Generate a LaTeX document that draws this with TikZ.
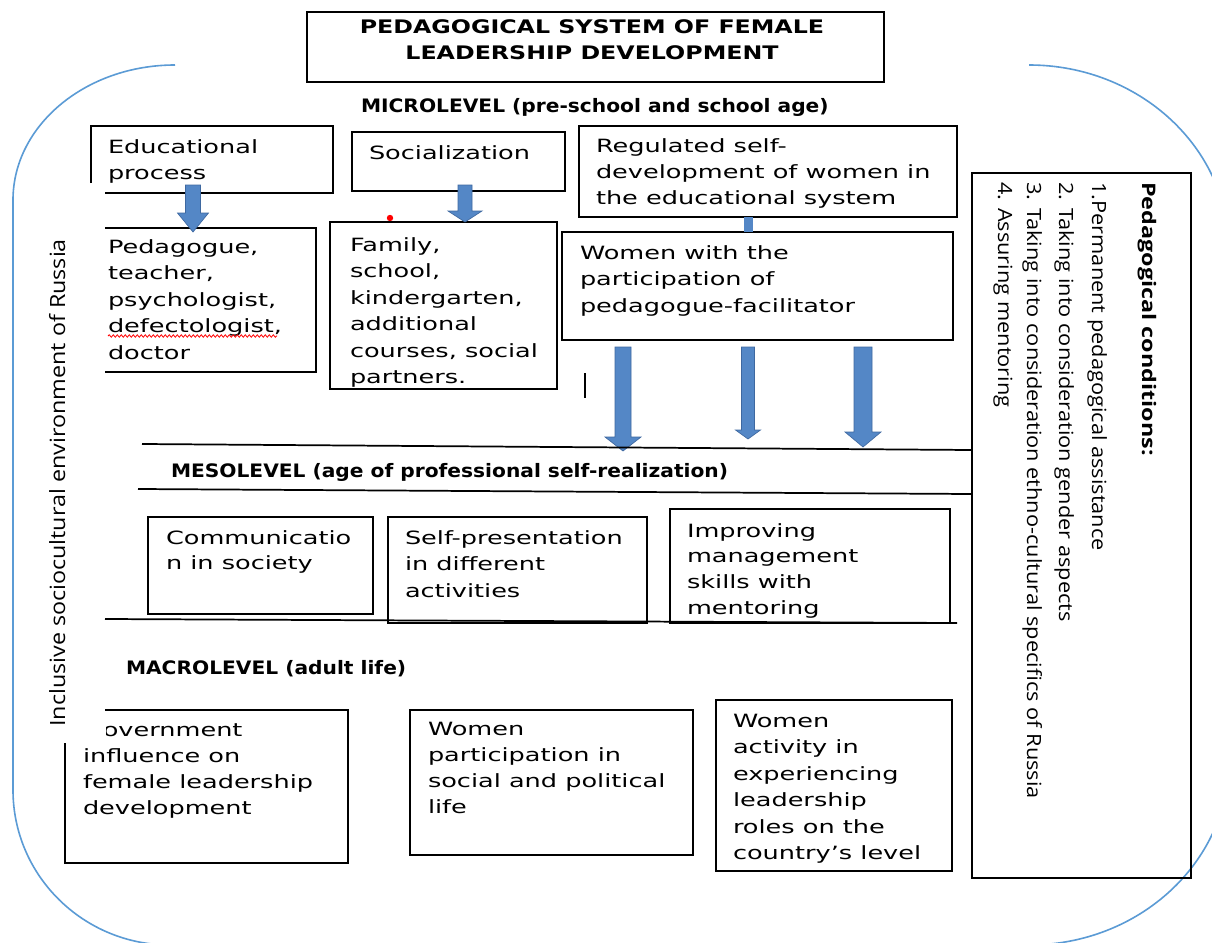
\documentclass[tikz,border=0pt]{standalone}
\usepackage{fontspec}
\usetikzlibrary{fit,calc,decorations.pathmorphing}
\newfontfamily\fBox{DejaVu Sans}[FakeStretch=1.4]
\newfontfamily\fLvl{DejaVu Sans}[FakeStretch=1.09]
\newfontfamily\fTitle{DejaVu Sans}[FakeStretch=1.27]
\newfontfamily\fRot{Open Sans}[FakeStretch=1.11]
\newfontfamily\fRotB{Open Sans}[FakeStretch=1.25]
\newfontfamily\fEnv{Open Sans}[FakeStretch=1.11]
\newdimen\px \px=0.75pt
\definecolor{arcblue}{RGB}{91,155,213}
\definecolor{arrfill}{RGB}{84,135,198}
\definecolor{arrline}{RGB}{62,104,160}
\newcommand\bxt[2]{\parbox[t]{520\px}{\fontsize{13.7pt}{#1}\selectfont\raggedright #2}}
\newcommand\blockarrow[5]{\filldraw[blockarr] #1 ++(-#2,0) -- ++(0,#3) -- ++(#2-#4,0) -- ++(#4,#5) -- ++(#4,-#5) -- ++(#2-#4,0) -- ++(0,-#3) -- cycle;}
\begin{document}
\begin{tikzpicture}[x=0.75pt,y=-0.75pt,
  frame/.style={inner sep=0pt, outer sep=0pt},
  box/.style={draw=black, line width=1.3pt},
  edge/.style={draw=black, line width=1.3pt},
  txt/.style={inner sep=0pt, outer sep=0pt, anchor=base west, font=\fBox\fontsize{13.7pt}{19.9pt}\selectfont},
  lvl/.style={inner sep=0pt, outer sep=0pt, anchor=base west, font=\fLvl\bfseries\fontsize{13.9pt}{16pt}\selectfont},
  rott/.style={rotate=-90, anchor=base west, inner sep=0pt, font=\fRot\fontsize{14.7pt}{17pt}\selectfont},
  rotbf/.style={rotate=-90, anchor=base west, inner sep=0pt, font=\fRotB\bfseries\fontsize{14pt}{17pt}\selectfont},
  envline/.style={draw=arcblue, line width=1.2pt},
  blockarr/.style={fill=arrfill, draw=arrline, line width=0.5pt}]
\useasboundingbox (0,0) rectangle (1212,942);
\fill[white] (0,0) rectangle (1212,942);

% inclusive environment frame
\draw[envline] (175,65) .. controls (85.6,65) and (13,125.5) .. (13,200) -- (13,790) .. controls (13,875.6) and (83.3,945) .. (170,945);
\draw[envline] (1029,65) .. controls (1139.4,65) and (1229,147.9) .. (1229,250) -- (1229,760) .. controls (1229,862) and (1139.4,945) .. (1029,945);
\node[rotate=90, anchor=base west, inner sep=0pt, font=\fEnv\fontsize{15.75pt}{18pt}\selectfont] (env) at (65,727) {Inclusive sociocultural environment of Russia};

% title
\node[frame, box, fit={(307,12) (884,82)}] (title) {};
\node[anchor=base, inner sep=0pt, font=\fTitle\bfseries\fontsize{14pt}{19.5pt}\selectfont] (titlet) at (592,34) {\parbox[t]{560\px}{\centering PEDAGOGICAL SYSTEM OF FEMALE\\LEADERSHIP DEVELOPMENT}};

% microlevel
\node[lvl] (micro) at (361,112) {MICROLEVEL (pre-school and school age)};

\node[frame, fit={(91,126) (333,193)}] (edu) {};
\draw[edge] ($(edu.south west)+(0,-10)$) -- (edu.north west) -- (edu.north east) -- (edu.south east) -- ($(edu.south west)+(14,0)$);
\node[txt] (edut) at (108,153) {\bxt{19.9pt}{Educational\\process}};

\node[frame, box, fit={(352,132) (565,191)}] (soc) {};
\node[txt] (soct) at (369,159) {\bxt{19.9pt}{Socialization}};

\node[frame, box, fit={(579,126) (957,217)}] (reg) {};
\node[txt] (regt) at (596,152) {\bxt{19.5pt}{Regulated self-\\development of women in\\the educational system}};

\node[frame, box, fit={(562,232) (953,340)}] (wom) {};
\node[txt] (womt) at (580,259) {\bxt{19.9pt}{Women with the\\participation of\\pedagogue-facilitator}};

\node[frame, fit={(105,228) (316,372)}] (ped) {};
\draw[edge] (ped.north west) -- (ped.north east) -- (ped.south east) -- (ped.south west);
\node[txt] (pedt) at (108,253) {\bxt{19.9pt}{Pedagogue,\\teacher,\\psychologist,\\defectologist,\\doctor}};
\draw[red, line width=0.6pt, decorate, decoration={snake, amplitude=0.9pt, segment length=3pt}] (108,336) -- (277,336);

\node[frame, box, fit={(330,222) (557,389)}] (fam) {};
\begin{scope}
\clip (330,222) rectangle (557,387);
\node[txt] (famt) at (350,251) {\bxt{19.9pt}{Family,\\school,\\kindergarten,\\additional\\courses, social\\partners.}};
\end{scope}
\fill[red] (390,218) circle (3.2);
\draw[edge, line width=0.9pt] (585,373) -- (585,398);

% arrows of the microlevel
\blockarrow{($(edu.south west)+(102,-8)$)}{7.5}{28}{15.5}{19}
\blockarrow{($(soc.south west)+(113,-6)$)}{7}{26}{17}{11}
\fill[arrfill] ($(reg.south west)+(165,0)$) rectangle ($(wom.north west)+(191,0)$);
\blockarrow{($(wom.south west)+(61,7)$)}{8}{90}{18}{14}
\blockarrow{($(wom.south west)+(186,7)$)}{6.5}{83}{12.5}{9}
\blockarrow{($(wom.south west)+(301,7)$)}{9}{85}{18}{15}

% pedagogical conditions
\node[frame, box, fit={(972,173) (1191,878)}] (pcb) {};
\node[rotbf] (pct) at (1142,182) {Pedagogical conditions:};
\node[rott] (pc1) at (1092,182) {1.Permanent pedagogical assistance};
\node[rott] (pc2) at (1059,182) {2. Taking into consideration gender aspects};
\node[rott] (pc3) at (1027,182) {3. Taking into consideration ethno-cultural specifics of Russia};
\node[rott] (pc4) at (998,182) {4. Assuring mentoring};

% mesolevel
\draw[edge] (142,444) -- ($(pcb.north west)+(0,277)$);
\node[lvl] (meso) at (171,477) {MESOLEVEL (age of professional self-realization)};
\draw[edge] (138,489) -- ($(pcb.north west)+(0,321)$);

\node[frame, box, fit={(148,517) (373,614)}] (com) {};
\node[txt] (comt) at (166,544) {\bxt{18.75pt}{Communicatio\\n in society}};
\node[frame, box, fit={(388,517) (647,623)}] (selfp) {};
\node[txt] (selfpt) at (405,544) {\bxt{19.9pt}{Self-presentation\\in different\\activities}};
\node[frame, box, fit={(670,509) (950,623)}] (imp) {};
\begin{scope}
\clip (670,509) rectangle (950,619);
\node[txt] (impt) at (687,537) {\bxt{19.3pt}{Improving\\management\\skills with\\mentoring}};
\end{scope}
\draw[edge] (105,619) -- (957,623);

% macrolevel
\node[lvl] (macro) at (126,674) {MACROLEVEL (adult life)};

\node[frame, fit={(65,710) (348,863)}] (gov) {};
\draw[edge] ($(gov.north west)+(40,0)$) -- (gov.north east) -- (gov.south east) -- (gov.south west) -- ($(gov.south west)+(0,-120)$);
\begin{scope}
\clip (106,710) -- (348,710) -- (348,863) -- (65,863) -- (65,743) -- (106,743) -- cycle;
\node[txt] (govt) at (83,736) {\bxt{19.7pt}{Government\\influence on\\female leadership\\development}};
\end{scope}

\node[frame, box, fit={(410,710) (693,855)}] (wpart) {};
\node[txt] (wpartt) at (428,735) {\bxt{19.7pt}{Women\\participation in\\social and political\\life}};

\node[frame, box, fit={(716,700) (952,871)}] (wact) {};
\node[txt] (wactt) at (733,727) {\bxt{19.9pt}{Women\\activity in\\experiencing\\leadership\\roles on the\\country’s level}};
\end{tikzpicture}
\end{document}
